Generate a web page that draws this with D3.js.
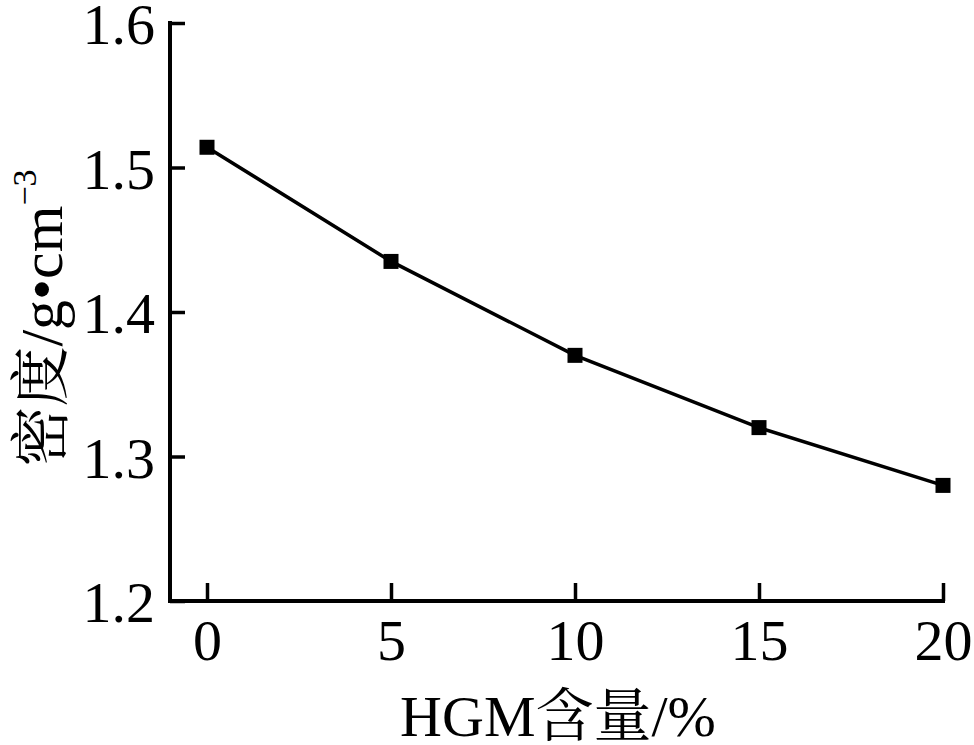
<!DOCTYPE html>
<html><head><meta charset="utf-8">
<script src="https://cdn.jsdelivr.net/npm/d3@7"></script>
<style>
body{margin:0;background:#fff;}
text{font-family:"Liberation Serif","Times New Roman","Noto Serif CJK SC","Noto Sans CJK SC",serif;fill:#000;}
</style></head>
<body><svg id="c" width="974" height="745"></svg>
<script>
const hgm = [0, 5, 10, 15, 20];
const density = [1.514, 1.435, 1.37, 1.32, 1.28];
const xTicks = [0, 5, 10, 15, 20];
const yTicks = [1.2, 1.3, 1.4, 1.5, 1.6];

const svg = d3.select("#c");
const padL = 170, padR = 943, padT = 23, padB = 601;
const x = d3.scaleLinear().domain([0, 20]).range([207, 943]);
const y = d3.scaleLinear().domain([1.2, 1.6]).range([padB, padT]);

// y axis
const ya = svg.append("g").attr("transform", `translate(${padL},0)`)
  .call(d3.axisLeft(y).tickValues(yTicks).tickFormat(d3.format(".1f")).tickSizeInner(-15).tickSizeOuter(0).tickPadding(10));
ya.select(".domain").attr("stroke-width", 4).attr("d", `M0,${padT - 2}V${padB}`);
ya.selectAll(".tick line").attr("stroke-width", 3.5);
ya.selectAll(".tick text").attr("font-size", 58).attr("dy", "0.36em").attr("x", -15);

// x axis
const xa = svg.append("g").attr("transform", `translate(0,${padB})`)
  .call(d3.axisBottom(x).tickValues(xTicks).tickSizeInner(-18).tickSizeOuter(0).tickPadding(14));
xa.select(".domain").attr("stroke-width", 4).attr("d", `M${padL - 2},0H${padR + 2}`);
xa.selectAll(".tick line").attr("stroke-width", 3.5);
xa.selectAll(".tick text").attr("font-size", 58).attr("y", 59).attr("dy", 0);

// line
const pts = hgm.map((d, i) => [d, density[i]]);
svg.append("path").datum(pts)
  .attr("fill", "none").attr("stroke", "#000").attr("stroke-width", 3.5)
  .attr("d", d3.line().x(d => x(d[0])).y(d => y(d[1])));

const ms = 15;
svg.selectAll("rect.m").data(pts).enter().append("rect").attr("class", "m")
  .attr("x", d => x(d[0]) - ms / 2).attr("y", d => y(d[1]) - ms / 2)
  .attr("width", ms).attr("height", ms).attr("fill", "#000");

// axis titles
svg.append("text").attr("x", 558).attr("y", 736).attr("text-anchor", "middle")
  .attr("font-size", 58).text("HGM含量/%");

const yl = svg.append("text").attr("transform", "translate(62,318) rotate(-90)")
  .attr("text-anchor", "middle").attr("font-size", 60);
yl.append("tspan").text("密度/g•cm");
yl.append("tspan").attr("font-size", 34).attr("dy", -26).text("−3");
</script></body></html>
